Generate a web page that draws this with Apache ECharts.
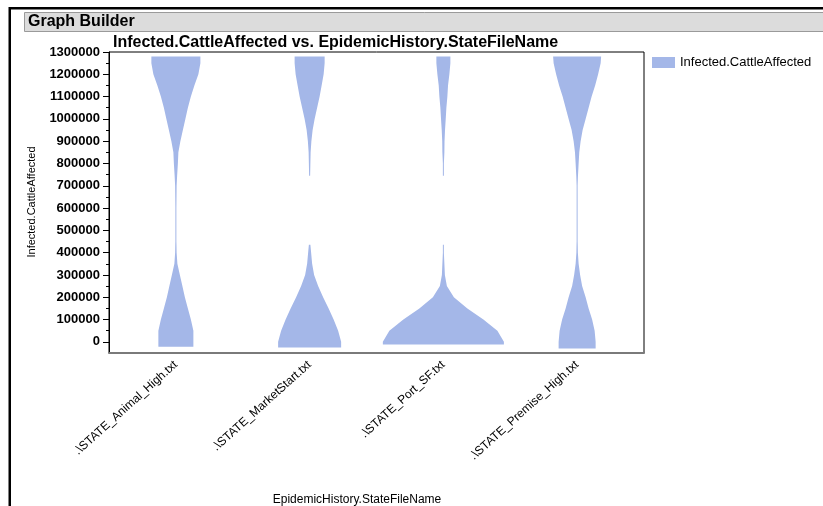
<!DOCTYPE html>
<html>
<head>
<meta charset="utf-8">
<script src="https://cdn.jsdelivr.net/npm/echarts@6/dist/echarts.min.js"></script>
<style>
  html, body { margin: 0; padding: 0; background: #fff; }
  #chart { width: 823px; height: 506px; }
</style>
</head>
<body>
<div id="chart"></div>
<script>
// categories on the x axis
const categories = ['.\\STATE_Animal_High.txt', '.\\STATE_MarketStart.txt', '.\\STATE_Port_SF.txt', '.\\STATE_Premise_High.txt']

// y levels where the violin density was read
const levels = [0, 50000, 100000, 150000, 200000, 250000, 300000, 350000, 400000, 435000, 450000, 500000, 600000, 700000, 745000, 800000, 850000, 900000, 950000, 1000000, 1050000, 1100000, 1150000, 1200000, 1250000, 1280000]
// lowest value of each violin
const bottomEdge = [-22000, -25000, -12000, -30000]

// relative density per level (0 = no data there)
const densAnimalHigh = [35, 35, 30, 24, 18, 13, 8, 3, 1.5, 1.2, 1, 1, 1, 1.5, 2.5, 4, 5, 9, 14, 19, 24, 30, 37, 45, 49, 49]
const densMarketStart = [63, 57, 48, 38, 27, 17, 9, 5, 3, 1.5, 0, 0, 0, 0, 1, 1.5, 2, 3.5, 6, 10, 15, 20, 24, 28, 30, 30]
const densPortSF = [121, 108, 80, 48, 21, 7, 3, 2, 1, 1, 0, 0, 0, 0, 1, 1, 2, 2.3, 3.3, 4.7, 6, 8, 9.3, 12, 14, 14]
const densPremiseHigh = [37, 35, 30, 23, 17, 10, 6, 3, 1.5, 1.2, 1, 1, 1, 1, 1.7, 3, 4.3, 7, 11, 17, 23, 29, 36, 42, 47, 48]
const densities = [densAnimalHigh, densMarketStart, densPortSF, densPremiseHigh]
const maxDensity = 121

// y axis ticks
const yMajorTicks = [0, 100000, 200000, 300000, 400000, 500000, 600000, 700000, 800000, 900000, 1000000, 1100000, 1200000, 1300000]
const yMinorTicks = [50000, 150000, 250000, 350000, 450000, 550000, 650000, 750000, 850000, 950000, 1050000, 1150000, 1250000]

const violinColor = '#A4B7E8'
const font = "'Liberation Sans', Arial, sans-serif"

const chart = echarts.init(document.getElementById('chart'))

function renderViolin(params, api) {
  const i = api.value(0)
  const dens = densities[i]
  const band = api.size([1, 0])[0]
  const k = band * 0.905 / maxDensity
  const cx = api.coord([i, 0])[0]
  const children = []
  let run = []

  const flush = () => {
    if (run.length < 2) { run = []; return }
    const left = run.map(p => [cx - p.w * k / 2, p.y])
    const right = run.slice().reverse().map(p => [cx + p.w * k / 2, p.y])
    children.push({
      type: 'polygon',
      shape: { points: left.concat(right) },
      style: { fill: violinColor }
    })
    run = []
  }

  levels.forEach((lv, j) => {
    const w = dens[j]
    if (w > 0) {
      if (j === 0) run.push({ w, y: api.coord([i, bottomEdge[i]])[1] })
      run.push({ w, y: api.coord([i, lv])[1] })
    } else {
      flush()
    }
  })
  flush()

  return { type: 'group', children }
}

const option = {
  animation: false,
  textStyle: { fontFamily: font },
  grid: {
    left: 109,
    right: 179,
    top: 52,
    bottom: 153,
    show: true,
    borderColor: '#000',
    borderWidth: 1
  },
  legend: {
    data: [{ name: 'Infected.CattleAffected', icon: 'rect' }],
    left: 652,
    top: 56,
    padding: 0,
    itemWidth: 23,
    itemHeight: 11,
    textStyle: { fontSize: 13, color: '#000', fontFamily: font }
  },
  xAxis: {
    type: 'category',
    data: categories,
    boundaryGap: true,
    axisLine: { show: true, onZero: false, lineStyle: { color: '#7a7a7a', width: 2 } },
    axisTick: { show: false },
    axisLabel: {
      rotate: 42,
      margin: 10,
      fontSize: 12,
      color: '#000',
      fontFamily: font,
      interval: 0
    },
    splitLine: { show: false }
  },
  yAxis: [{
    type: 'value',
    min: -50000,
    max: 1300000,
    interval: 50000,
    axisLine: { show: true, lineStyle: { color: '#000', width: 1 } },
    axisTick: { show: true, length: 6, customValues: yMajorTicks, lineStyle: { color: '#000' } },
    axisLabel: {
      customValues: yMajorTicks,
      formatter: v => String(v),
      margin: 9,
      fontSize: 13,
      fontWeight: 'bold',
      color: '#000',
      fontFamily: font
    },
    splitLine: { show: false }
  }, {
    type: 'value',
    min: -50000,
    max: 1300000,
    interval: 50000,
    position: 'left',
    axisLine: { show: false },
    axisTick: { show: true, length: 3, customValues: yMinorTicks, lineStyle: { color: '#000' } },
    axisLabel: { show: false },
    splitLine: { show: false }
  }],
  graphic: [
    // window frame
    { type: 'rect', shape: { x: 9, y: 7, width: 814, height: 2.5 }, style: { fill: '#000' } },
    { type: 'rect', shape: { x: 8.5, y: 7, width: 2.5, height: 499 }, style: { fill: '#000' } },
    // header bar
    { type: 'rect', shape: { x: 24.5, y: 12.5, width: 800, height: 19 }, style: { fill: '#DCDCDC', stroke: '#9a9a9a', lineWidth: 1 } },
    { type: 'text', x: 28, y: 22, style: { text: 'Graph Builder', font: "bold 16px 'Liberation Sans', Arial", fill: '#000', verticalAlign: 'middle' } },
    // chart title
    { type: 'text', x: 113, y: 42.5, style: { text: 'Infected.CattleAffected vs. EpidemicHistory.StateFileName', font: "bold 16px 'Liberation Sans', Arial", fill: '#000', verticalAlign: 'middle' } },
    // axis names
    { type: 'text', x: 32, y: 202, rotation: Math.PI / 2, style: { text: 'Infected.CattleAffected', font: "11px 'Liberation Sans', Arial", fill: '#000', align: 'center', verticalAlign: 'middle' } },
    { type: 'text', x: 357, y: 500, style: { text: 'EpidemicHistory.StateFileName', font: "12px 'Liberation Sans', Arial", fill: '#000', align: 'center', verticalAlign: 'middle' } }
  ],
  series: [{
    name: 'Infected.CattleAffected',
    type: 'custom',
    renderItem: renderViolin,
    itemStyle: { color: violinColor },
    data: categories.map((c, i) => [i, 0]),
    encode: { x: 0, y: 1 }
  }]
}

chart.setOption(option)
</script>
</body>
</html>
